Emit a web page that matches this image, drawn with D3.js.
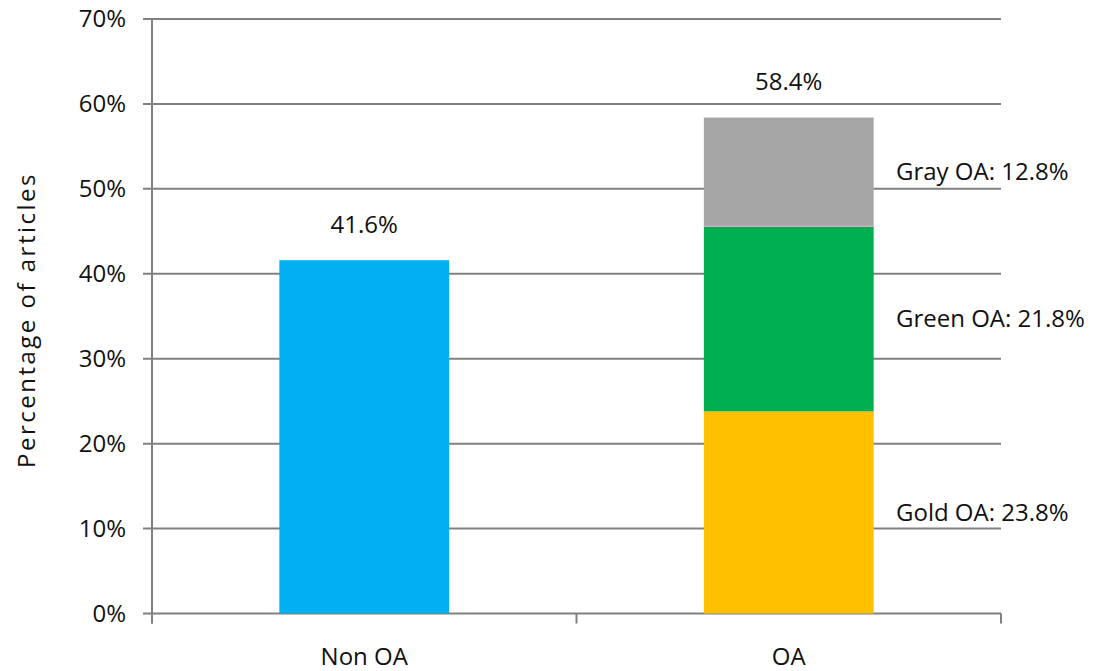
<!DOCTYPE html>
<html>
<head>
<meta charset="utf-8">
<script src="https://cdn.jsdelivr.net/npm/d3@7/dist/d3.min.js"></script>
<style>
  body { margin: 0; background: #fff; }
  text { font-family: "Open Sans", sans-serif; fill: #111; }
</style>
</head>
<body>
<svg id="chart" width="1099" height="671"></svg>
<script>
const categories = ['Non OA', 'OA']
const segments = ['Non OA', 'Gold OA', 'Green OA', 'Gray OA']
const nonOA = [41.6, 0, 0, 0]
const oa = [0, 23.8, 21.8, 12.8]
const totals = [41.6, 58.4]
const yTicks = [0, 10, 20, 30, 40, 50, 60, 70]
const colors = { 'Non OA': '#00b0f0', 'Gold OA': '#ffc000', 'Green OA': '#00b050', 'Gray OA': '#a6a6a6' }

const plotLeft = 152, plotRight = 1001, plotTop = 19, plotBottom = 613.5
const fontSize = '24px'

const svg = d3.select('#chart')

const x = d3.scaleBand().domain(categories).range([plotLeft, plotRight]).paddingInner(0.6).paddingOuter(0.3)
const y = d3.scaleLinear().domain([0, 70]).range([plotBottom, plotTop])

// rows for stacking
const rows = categories.map((c, i) => {
  let row = { cat: c }
  segments.forEach((s, j) => row[s] = (i == 0 ? nonOA : oa)[j])
  return row
})
const stacked = d3.stack().keys(segments)(rows)

// gridlines
svg.append('g').selectAll('line')
  .data(yTicks).enter().append('line')
  .attr('x1', plotLeft - 9).attr('x2', plotRight)
  .attr('y1', d => y(d)).attr('y2', d => y(d))
  .attr('stroke', '#808080').attr('stroke-width', 2)

// y axis line
svg.append('line')
  .attr('x1', plotLeft).attr('x2', plotLeft)
  .attr('y1', plotTop).attr('y2', plotBottom + 10)
  .attr('stroke', '#808080').attr('stroke-width', 2)

// x category ticks
const boundaries = [plotLeft, (plotLeft + plotRight) / 2, plotRight]
svg.append('g').selectAll('line')
  .data(boundaries).enter().append('line')
  .attr('x1', d => d).attr('x2', d => d)
  .attr('y1', plotBottom).attr('y2', plotBottom + 10)
  .attr('stroke', '#808080').attr('stroke-width', 2)

// bars
svg.append('g').selectAll('g')
  .data(stacked).enter().append('g')
  .attr('fill', d => colors[d.key])
  .selectAll('rect')
  .data(d => d).enter().append('rect')
  .attr('x', d => x(d.data.cat))
  .attr('width', x.bandwidth())
  .attr('y', d => y(d[1]))
  .attr('height', d => y(d[0]) - y(d[1]))

// thin divider between gray and green
svg.append('line')
  .attr('x1', x('OA')).attr('x2', x('OA') + x.bandwidth())
  .attr('y1', y(oa[1] + oa[2])).attr('y2', y(oa[1] + oa[2]))
  .attr('stroke', '#d8a8c8').attr('stroke-width', 1.5)

// tick labels
svg.append('g').selectAll('text')
  .data(yTicks).enter().append('text')
  .attr('x', 126).attr('y', d => y(d))
  .attr('dy', '0.35em')
  .attr('text-anchor', 'end')
  .style('font-size', fontSize)
  .text(d => d + '%')

svg.append('g').selectAll('text')
  .data(categories).enter().append('text')
  .attr('x', d => x(d) + x.bandwidth() / 2)
  .attr('y', 657).attr('dy', '0.35em')
  .attr('text-anchor', 'middle')
  .style('font-size', fontSize)
  .text(d => d)

// totals above bars
svg.append('g').selectAll('text')
  .data(categories).enter().append('text')
  .attr('x', d => x(d) + x.bandwidth() / 2)
  .attr('y', (d, i) => y(totals[i]) - 36).attr('dy', '0.35em')
  .attr('text-anchor', 'middle')
  .style('font-size', fontSize)
  .text((d, i) => totals[i].toFixed(1) + '%')

// segment labels on the right
const oaSegs = stacked.filter(s => s.key != 'Non OA').map(s => ({ key: s.key, lo: s[1][0], hi: s[1][1] }))
svg.append('g').selectAll('text')
  .data(oaSegs).enter().append('text')
  .attr('x', 896)
  .attr('y', d => y((d.lo + d.hi) / 2)).attr('dy', '0.35em')
  .style('font-size', fontSize)
  .text(d => d.key + ': ' + (d.hi - d.lo).toFixed(1) + '%')

// y axis title
svg.append('text')
  .attr('transform', 'translate(27,' + 320 + ') rotate(-90)')
  .attr('text-anchor', 'middle')
  .attr('dy', '0.35em')
  .style('font-size', fontSize)
  .style('letter-spacing', '2.5px')
  .text('Percentage of articles')
</script>
</body>
</html>
